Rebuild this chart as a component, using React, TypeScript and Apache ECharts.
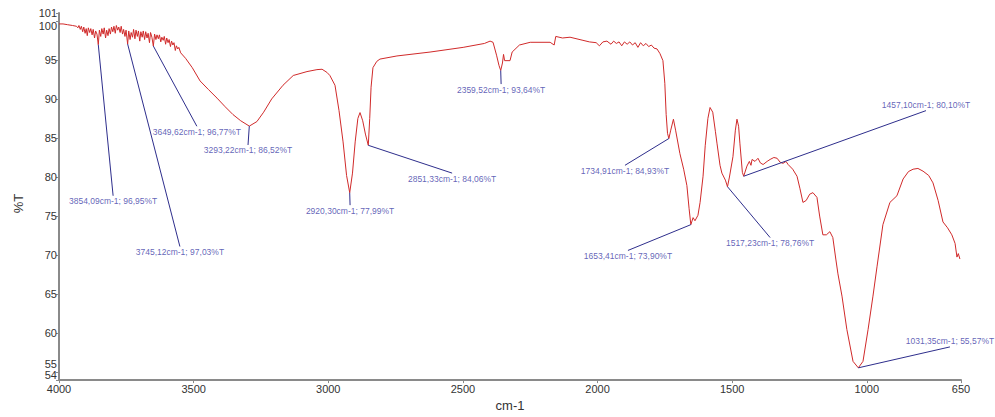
import React, { useEffect, useRef } from "react";
import * as echarts from "echarts";

// FTIR spectrum: wavenumber (cm-1) and transmittance (%T), ten points per row
const wavenumber = [
  4000, 3985, 3968, 3950, 3935, 3930, 3926, 3921, 3917, 3912,
  3908, 3903, 3899, 3895, 3891, 3886, 3882, 3877, 3873, 3868,
  3864, 3859, 3854.09, 3850, 3845, 3841, 3836, 3832, 3827, 3823,
  3818, 3814, 3809, 3805, 3800, 3796, 3791, 3787, 3782, 3778,
  3773, 3769, 3764, 3760, 3755, 3751, 3745.12, 3741, 3736, 3732,
  3727, 3723, 3718, 3714, 3709, 3705, 3700, 3696, 3691, 3687,
  3682, 3678, 3673, 3669, 3664, 3660, 3655, 3649.62, 3645, 3640,
  3636, 3631, 3627, 3622, 3618, 3613, 3609, 3604, 3600, 3595,
  3591, 3586, 3582, 3577, 3573, 3568, 3564, 3559, 3555, 3548,
  3530, 3505, 3476, 3445, 3413, 3383, 3354, 3325, 3293.22, 3265,
  3240, 3210, 3168, 3130, 3079, 3042, 3023, 3005, 2994, 2975,
  2960, 2945, 2932, 2920.3, 2910, 2900, 2890, 2882, 2872, 2862,
  2851.33, 2846, 2841, 2834, 2820, 2808, 2745, 2622, 2499, 2420,
  2399, 2388, 2375, 2366, 2359.52, 2353, 2349, 2345, 2325, 2317,
  2290, 2250, 2176, 2161, 2155, 2130, 2102, 2054, 2030, 2005,
  1993, 1980, 1965, 1950, 1940, 1930, 1920, 1910, 1900, 1890,
  1880, 1870, 1860, 1850, 1840, 1830, 1820, 1810, 1800, 1790,
  1779, 1768, 1757, 1750, 1745, 1740, 1734.91, 1728, 1718, 1710,
  1694, 1680, 1668, 1660, 1653.41, 1645, 1638, 1627, 1619, 1608,
  1600, 1590, 1582, 1572, 1562, 1556, 1545, 1538, 1525, 1517.23,
  1510, 1497, 1488, 1482, 1476, 1471, 1462, 1457.1, 1445, 1436,
  1430, 1426, 1415, 1404, 1395, 1385, 1370, 1359, 1345, 1333,
  1322, 1311, 1300, 1292, 1275, 1259, 1248, 1237, 1225, 1212,
  1200, 1185, 1175, 1163, 1150, 1137, 1126, 1115, 1107, 1092,
  1074, 1051, 1031.35, 1014, 995, 977, 962, 940, 914, 888,
  865, 845, 828, 810, 791, 770, 754, 735, 717, 700,
  684, 672, 665, 660, 654,
];

const transmittance = [
  99.6, 99.6, 99.5, 99.4, 99.3, 99.1, 99.4, 98.9, 99.3, 98.6,
  99.2, 98.4, 99.0, 98.1, 99.1, 98.5, 99.0, 98.2, 98.9, 97.8,
  98.7, 98.3, 96.95, 98.8, 98.0, 99.0, 98.3, 99.1, 97.8, 98.8,
  98.1, 99.0, 98.3, 99.2, 98.6, 99.3, 98.4, 99.4, 98.8, 99.2,
  98.5, 99.3, 98.3, 98.9, 98.0, 98.8, 97.03, 98.7, 97.6, 98.5,
  97.9, 98.9, 97.7, 98.8, 98.0, 98.7, 97.4, 98.6, 97.9, 98.7,
  97.6, 98.6, 97.8, 98.4, 97.2, 98.5, 97.9, 96.77, 98.3, 97.6,
  98.2, 97.7, 98.2, 97.3, 97.9, 97.5, 98.0, 97.0, 97.8, 97.2,
  97.6, 96.7, 97.4, 96.9, 97.2, 96.2, 96.8, 96.4, 96.6, 95.9,
  95.2, 94.0, 92.3, 91.2, 90.1, 89.0, 88.0, 87.2, 86.52, 87.1,
  88.3, 90.0, 91.75, 93.0, 93.5, 93.75, 93.8, 93.4, 93.0, 91.75,
  88.5, 84.5, 80.2, 77.99, 80.5, 84.5, 87.5, 88.25, 87.2, 85.5,
  84.06, 87.5, 91.5, 94.0, 94.8, 95.1, 95.5, 96.0, 96.6, 97.1,
  97.4, 97.25, 95.6, 94.3, 93.64, 94.6, 95.7, 94.9, 94.9, 96.0,
  96.9, 97.25, 97.25, 96.9, 98.0, 97.8, 97.9, 97.5, 97.3, 97.2,
  96.8, 97.3, 97.4, 97.0, 97.4, 97.1, 97.3, 96.8, 97.3, 97.0,
  97.3, 96.9, 97.2, 96.6, 97.2, 96.8, 97.1, 96.7, 96.9, 96.5,
  96.4, 95.8, 94.9, 92.0, 88.0, 85.6, 84.93, 86.0, 87.4, 86.0,
  83.0, 81.0, 78.9, 76.0, 73.9, 74.8, 74.4, 75.1, 76.75, 80.1,
  84.0, 87.5, 88.9, 88.3, 85.8, 84.25, 81.5, 80.5, 79.6, 78.76,
  80.0, 82.6, 86.0, 87.4, 86.5, 84.25, 80.6, 80.1, 81.4, 82.0,
  81.5, 82.25, 82.0, 82.4, 81.8, 81.6, 82.0, 82.25, 82.5, 82.4,
  81.9, 81.75, 82.0, 81.6, 81.0, 80.1, 78.5, 76.75, 77.0, 77.8,
  78.0, 77.4, 75.0, 72.6, 72.6, 73.0, 72.25, 69.5, 67.6, 64.75,
  60.5, 56.4, 55.57, 56.4, 60.5, 64.75, 68.5, 73.9, 76.75, 77.6,
  79.75, 80.7, 81.0, 81.1, 80.75, 80.2, 79.25, 77.0, 74.25, 73.5,
  72.6, 71.5, 69.75, 70.2, 69.5,
];

// Labelled peaks (wavenumber, %T)
const peakWavenumber = [
  3854.09, 3745.12, 3649.62, 3293.22, 2920.3, 2851.33, 2359.52, 1734.91, 1653.41, 1517.23,
  1457.1, 1031.35,
];
const peakTransmittance = [
  96.95, 97.03, 96.77, 86.52, 77.99, 84.06, 93.64, 84.93, 73.9, 78.76, 80.1, 55.57,
];

// Where each leader line ends, in axis units, and which side of that end the label sits
const labelAnchorWavenumber = [
  3799, 3551, 3488, 3298, 2919, 2540, 2358, 1898, 1887, 1359, 780, 691,
];
const labelAnchorTransmittance = [
  77.6, 71.1, 86.5, 84.1, 76.4, 80.5, 91.9, 81.5, 70.6, 72.25, 88.5, 58.25,
];
const labelSide = [
  "bottom", "bottom", "bottom", "bottom", "bottom", "bottom", "bottom", "bottom", "bottom",
  "bottom", "top", "top",
];

const xTicks = [4000, 3500, 3000, 2500, 2000, 1500, 1000, 650];
// The %T scale: regular steps plus the end values. The values at and next to the ends
// (54, 55, 100) each go on a twin scale so their numbers can be nudged apart.
const yTicksMain = [60, 65, 70, 75, 80, 85, 90, 95, 101];
const yTickNearTop = [100];
const yTickNearBottom = [55];
const yTickBottom = [54];

const fmt = (v: number) => v.toFixed(2).replace(".", ",");

export default function App() {
  const ref = useRef<HTMLDivElement>(null);

  useEffect(() => {
    if (!ref.current) return;
    const chart = echarts.init(ref.current, undefined, { renderer: "svg" });

    const spectrum = wavenumber.map((w, i) => [w, transmittance[i]]);
    const leaders = peakWavenumber.map((w, i) => [
      { coord: [w, peakTransmittance[i]] },
      { coord: [labelAnchorWavenumber[i], labelAnchorTransmittance[i]] },
    ]);
    const labels = peakWavenumber.map((w, i) => ({
      value: [labelAnchorWavenumber[i], labelAnchorTransmittance[i]],
      name: `${fmt(w)}cm-1; ${fmt(peakTransmittance[i])}%T`,
      label: { position: labelSide[i] },
    }));

    const axisGray = "#8a8a8a";
    const labelFont = "Arial, 'Liberation Sans', sans-serif";

    const yLabel = (values: number[], verticalAlign: string, padding: number[]) => ({
      fontFamily: labelFont,
      fontSize: 11,
      color: "#333",
      margin: 2,
      verticalAlign,
      padding,
      showMinLabel: true,
      showMaxLabel: true,
      hideOverlap: false,
      customValues: values,
      formatter: (v: number) => String(v),
    });

    const twinY = (values: number[], verticalAlign: string, padding: number[]) => ({
      type: "value",
      min: 54,
      max: 101,
      position: "left",
      offset: 0,
      axisLine: { show: false },
      axisTick: {
        show: true,
        length: 3,
        lineStyle: { color: axisGray },
        customValues: values,
      },
      axisLabel: yLabel(values, verticalAlign, padding),
      splitLine: { show: false },
    });

    chart.setOption({
      animation: false,
      backgroundColor: "#ffffff",
      grid: { left: 59, right: 34, top: 13, bottom: 28 },
      xAxis: {
        type: "value",
        inverse: true,
        min: 650,
        max: 4000,
        name: "cm-1",
        nameLocation: "middle",
        nameGap: 16,
        nameTextStyle: { fontFamily: labelFont, fontSize: 13, color: "#333" },
        axisLine: { lineStyle: { color: axisGray, width: 2 } },
        axisTick: { show: true, length: 3, lineStyle: { color: axisGray }, customValues: xTicks },
        axisLabel: {
          fontFamily: labelFont,
          fontSize: 11,
          color: "#333",
          margin: 3,
          showMinLabel: true,
          showMaxLabel: true,
          customValues: xTicks,
          formatter: (v: number) => String(v),
        },
        splitLine: { show: false },
      },
      yAxis: [
        {
          type: "value",
          min: 54,
          max: 101,
          position: "left",
          name: "%T",
          nameLocation: "middle",
          nameRotate: 90,
          nameGap: 34,
          nameTextStyle: {
            fontFamily: labelFont,
            fontSize: 13,
            color: "#333",
            padding: [0, 14, 0, 0],
          },
          axisLine: { show: true, lineStyle: { color: axisGray, width: 2 } },
          axisTick: {
            show: true,
            length: 3,
            lineStyle: { color: axisGray },
            customValues: yTicksMain,
          },
          axisLabel: yLabel(yTicksMain, "middle", [0, 0, 0, 0]),
          splitLine: { show: false },
        },
        twinY(yTickNearTop, "top", [0, 0, 0, 0]),
        twinY(yTickNearBottom, "bottom", [0, 0, 3, 0]),
        twinY(yTickBottom, "bottom", [0, 0, 0, 0]),
      ],
      series: [
        {
          type: "line",
          data: spectrum,
          yAxisIndex: 0,
          showSymbol: false,
          symbol: "none",
          silent: true,
          lineStyle: { color: "#d02a2a", width: 1 },
          markLine: {
            silent: true,
            symbol: ["none", "none"],
            label: { show: false },
            lineStyle: { color: "#2e2e8c", width: 1, type: "solid" },
            emphasis: { disabled: true },
            data: leaders,
          },
          z: 3,
        },
        {
          type: "scatter",
          data: labels,
          yAxisIndex: 0,
          symbolSize: 0,
          silent: true,
          label: {
            show: true,
            formatter: (p: any) => p.name,
            distance: 1,
            fontFamily: labelFont,
            fontSize: 8.5,
            color: "#3a3aa6",
          },
          z: 4,
        },
      ],
    });

    return () => chart.dispose();
  }, []);

  return (
    <div
      ref={ref}
      style={{ position: "absolute", left: 0, top: 0, width: 995, height: 417, background: "#fff" }}
    />
  );
}
